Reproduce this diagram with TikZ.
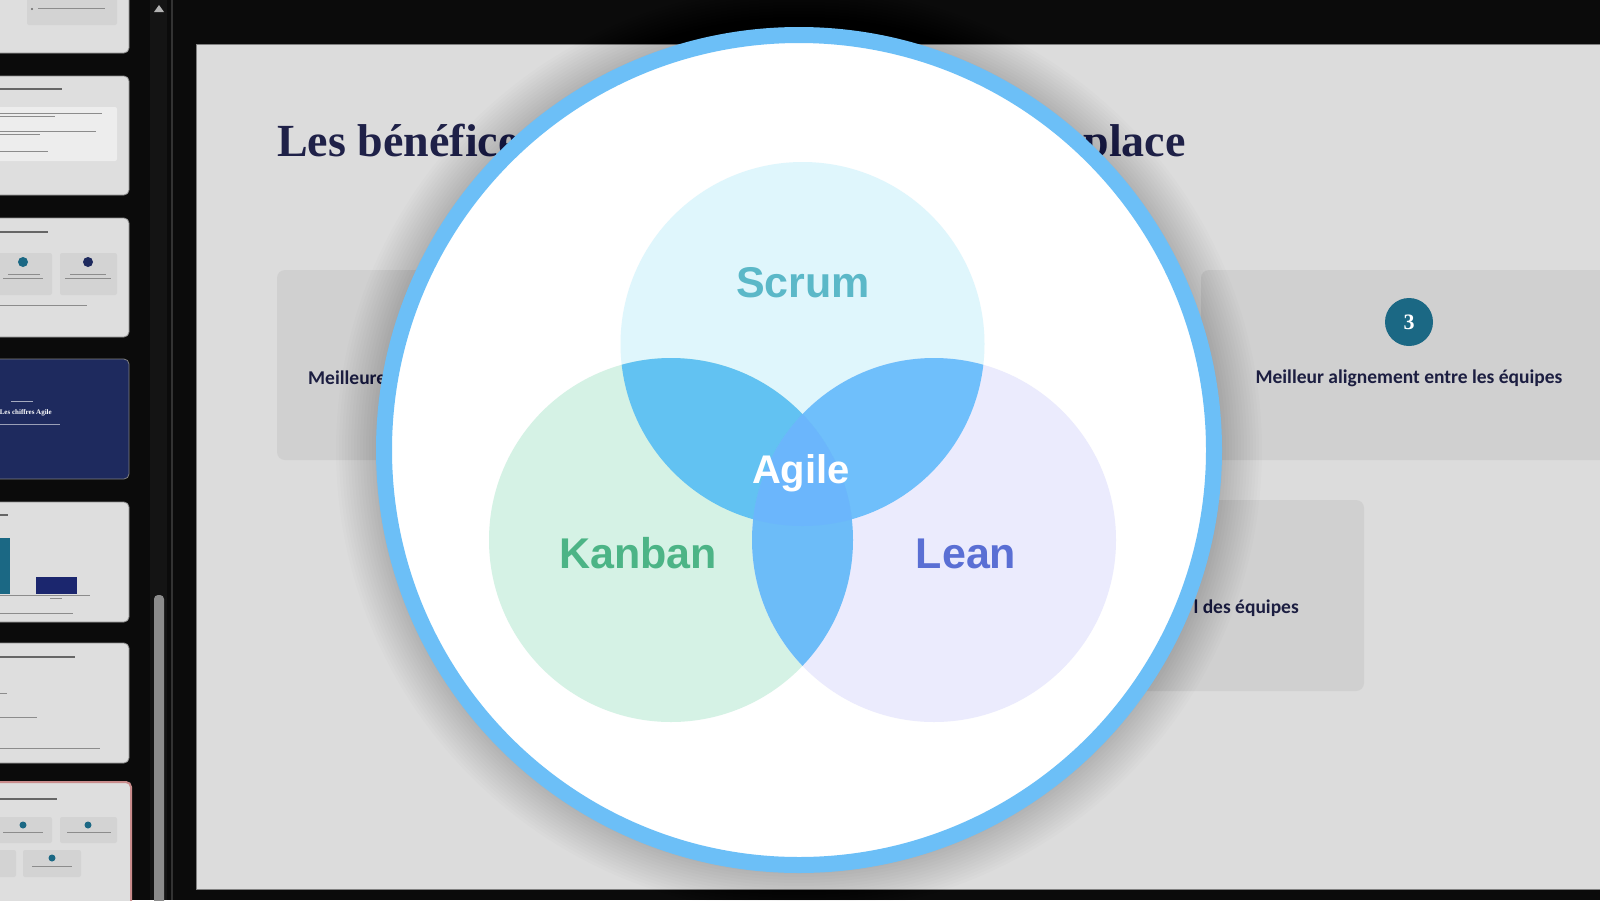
\documentclass[tikz,border=0pt]{standalone}
\usepackage{fontspec}
\setmainfont{Liberation Serif}
\newfontfamily\vennfont{Liberation Sans}
\newfontfamily\calfont{Carlito}
\definecolor{bgdark}{HTML}{0B0B0B}
\definecolor{slidebg}{HTML}{DCDCDC}
\definecolor{cardbg}{HTML}{D0D0D0}
\definecolor{thumbbg}{HTML}{DEDEDE}
\definecolor{thumbin}{HTML}{D3D3D3}
\definecolor{navy}{HTML}{1E2A5E}
\definecolor{titlecol}{HTML}{1F2148}
\definecolor{tealdark}{HTML}{1B6884}
\definecolor{ringblue}{HTML}{6CBFF7}
\definecolor{scrumfill}{HTML}{DFF6FC}
\definecolor{kanbanfill}{HTML}{D5F2E5}
\definecolor{leanfill}{HTML}{EBEBFD}
\definecolor{skfill}{HTML}{62C2F2}
\definecolor{slfill}{HTML}{6FBFFB}
\definecolor{klfill}{HTML}{6CBCF8}
\definecolor{sklfill}{HTML}{6BB6FC}
\definecolor{scrumtxt}{HTML}{5BB8C8}
\definecolor{kanbantxt}{HTML}{4CB486}
\definecolor{leantxt}{HTML}{5A6FD4}
\definecolor{pinkborder}{HTML}{C98C8C}
\tikzset{
  thumb/.style={fill=thumbbg, draw=black!45, line width=0.8pt, rounded corners=5pt},
  thumbbox/.style={fill=thumbin, rounded corners=2pt},
  tline/.style={draw=black!45, line width=1pt},
  ttitle/.style={draw=black!60, line width=2pt},
  card/.style={fill=cardbg, rounded corners=8pt},
  cardtext/.style={font=\calfont\bfseries\fontsize{19.5}{21}\selectfont, text=titlecol!90!black},
  venntext/.style={font=\vennfont\bfseries\fontsize{43}{46}\selectfont, inner sep=0pt, anchor=base}
}
\begin{document}
\begin{tikzpicture}[x=1pt,y=-1pt]
\useasboundingbox (0,0) rectangle (1600,900);
\clip (0,0) rectangle (1600,900);
\fill[bgdark] (0,0) rectangle (1600,900);

% ---------- left thumbnail panel ----------
\draw[thumb] (-10,-10) rectangle (129,53);
\fill[thumbbox] (27,-5) rectangle (117,25);
\fill[black!60] (32,9) circle (1.2pt);
\draw[tline, line width=0.7pt] (38,8) -- (105,8);

\draw[thumb] (-10,76) rectangle (129,195);
\draw[ttitle] (0,89) -- (62,89);
\fill[fill=black!7, rounded corners=2pt] (-10,107) rectangle (117,161);
\draw[tline] (0,113) -- (102,113);
\draw[tline] (0,116) -- (55,116);
\draw[tline, line width=0.6pt] (0,131) -- (96,131);
\draw[tline, line width=0.6pt] (0,134) -- (40,134);
\draw[tline, line width=0.6pt] (0,151) -- (48,151);

\draw[thumb] (-10,218) rectangle (129,337);
\draw[ttitle] (0,232) -- (48,232);
\fill[thumbbox] (-10,253) rectangle (52,295);
\fill[thumbbox] (60,253) rectangle (117,295);
\fill[tealdark] (23,262) circle (5pt);
\fill[navy] (88,262) circle (5pt);
\draw[tline, line width=0.6pt] (8,274) -- (40,274);
\draw[tline, line width=0.6pt] (3,278) -- (43,278);
\draw[tline, line width=0.6pt] (70,274) -- (106,274);
\draw[tline, line width=0.6pt] (65,278) -- (111,278);
\draw[tline, line width=0.6pt] (0,305) -- (87,305);

\draw[thumb, fill=navy, draw=black!50] (-10,359) rectangle (129,479);
\draw[draw=white!60!navy, line width=0.6pt] (11,401) -- (33,401);
\node[anchor=base east, text=white, font=\bfseries\fontsize{7}{8}\selectfont, inner sep=0pt] (t4) at (52,414) {Les chiffres Agile};
\draw[draw=white!55!navy, line width=0.6pt] (0,424) -- (60,424);

\draw[thumb] (-10,502) rectangle (129,622);
\draw[ttitle] (0,515) -- (8,515);
\fill[fill=tealdark] (-10,538) rectangle (10,594);
\fill[fill=navy!90!blue] (36,577) rectangle (77,594);
\draw[tline, line width=0.5pt] (0,595) -- (90,595);
\draw[tline, line width=0.5pt] (50,598) -- (62,598);
\draw[tline, line width=0.6pt] (0,613) -- (73,613);

\draw[thumb] (-10,643) rectangle (129,763);
\draw[ttitle] (0,657) -- (75,657);
\draw[tline, line width=0.6pt] (0,693) -- (7,693);
\draw[tline, line width=0.6pt] (0,717) -- (37,717);
\draw[tline, line width=0.6pt] (0,748) -- (100,748);

\draw[thumb, draw=pinkborder, line width=2pt] (-10,782) rectangle (131,915);
\draw[ttitle] (0,799) -- (57,799);
\fill[thumbbox] (-10,817) rectangle (52,843);
\fill[thumbbox] (60,817) rectangle (117,843);
\fill[tealdark] (23,825) circle (3.5pt);
\fill[tealdark] (88,825) circle (3.5pt);
\draw[tline, line width=0.6pt] (3,832) -- (43,832);
\draw[tline, line width=0.6pt] (67,832) -- (111,832);
\fill[thumbbox] (-10,850) rectangle (16,877);
\fill[thumbbox] (23,850) rectangle (81,877);
\fill[tealdark] (52,858) circle (3.5pt);
\draw[tline, line width=0.6pt] (32,866) -- (72,866);

% ---------- scrollbar ----------
\fill[black!92] (150,0) rectangle (167,900);
\fill[black!45, rounded corners=4pt] (154,595) rectangle (164,910);
\fill[black!30] (154,12) -- (164,12) -- (159,5) -- cycle;
\draw[black!80, line width=1.5pt] (172,0) -- (172,900);

% ---------- slide ----------
\fill[slidebg, draw=black!50, line width=1pt] (196,44) rectangle (1610,889);
\node[anchor=base west, font=\bfseries\fontsize{46}{50}\selectfont, text=titlecol, inner sep=0pt] (title1) at (277,156) {Les bénéfices};
\node[anchor=base east, font=\bfseries\fontsize{46}{50}\selectfont, text=titlecol, inner sep=0pt] (title2) at (1186,156) {place};

\fill[card] (277,270) rectangle (640,460);
\fill[card] (1201,270) rectangle (1640,460);
\fill[card] (950,500) rectangle (1364,691);
\node[cardtext, anchor=west, inner sep=0pt] (c1) at (308,378) {Meilleure};
\node[circle, fill=tealdark, minimum size=48pt, inner sep=0pt, text=white, font=\bfseries\fontsize{22}{24}\selectfont] (n3) at (1409,322) {3};
\node[cardtext] (c3) at (1409,378) {Meilleur alignement entre les équipes};
\node[cardtext, anchor=east, inner sep=0pt] (c5) at (1299,608) {l des équipes};

% ---------- magnifier shadow ----------
\coordinate (C) at (799,450);
\foreach \i in {0,...,13}
  \fill[black, opacity=0.013] (C) circle [radius={(424+3*\i)*1pt}];

% ---------- magnifier ----------
\fill[white] (C) circle (415pt);
\draw[ringblue, line width=16pt] (C) circle (415pt);

% ---------- Venn ----------
\coordinate (S) at (802.5,344);
\coordinate (K) at (671,540);
\coordinate (L) at (934,540);
\fill[scrumfill] (S) circle (182pt);
\fill[kanbanfill] (K) circle (182pt);
\fill[leanfill] (L) circle (182pt);
\begin{scope}
  \clip (S) circle (182pt);
  \fill[skfill] (K) circle (182pt);
\end{scope}
\begin{scope}
  \clip (S) circle (182pt);
  \fill[slfill] (L) circle (182pt);
\end{scope}
\begin{scope}
  \clip (K) circle (182pt);
  \fill[klfill] (L) circle (182pt);
\end{scope}
\begin{scope}
  \clip (S) circle (182pt);
  \clip (K) circle (182pt);
  \fill[sklfill] (L) circle (182pt);
\end{scope}
\node[venntext, text=scrumtxt] (scrum) at (803,297) {Scrum};
\node[venntext, text=kanbantxt] (kanban) at (638,568) {Kanban};
\node[venntext, text=leantxt] (lean) at (966,568) {Lean};
\node[venntext, text=white, font=\vennfont\bfseries\fontsize{40}{44}\selectfont] (agile) at (801,483) {Agile};
\end{tikzpicture}
\end{document}
